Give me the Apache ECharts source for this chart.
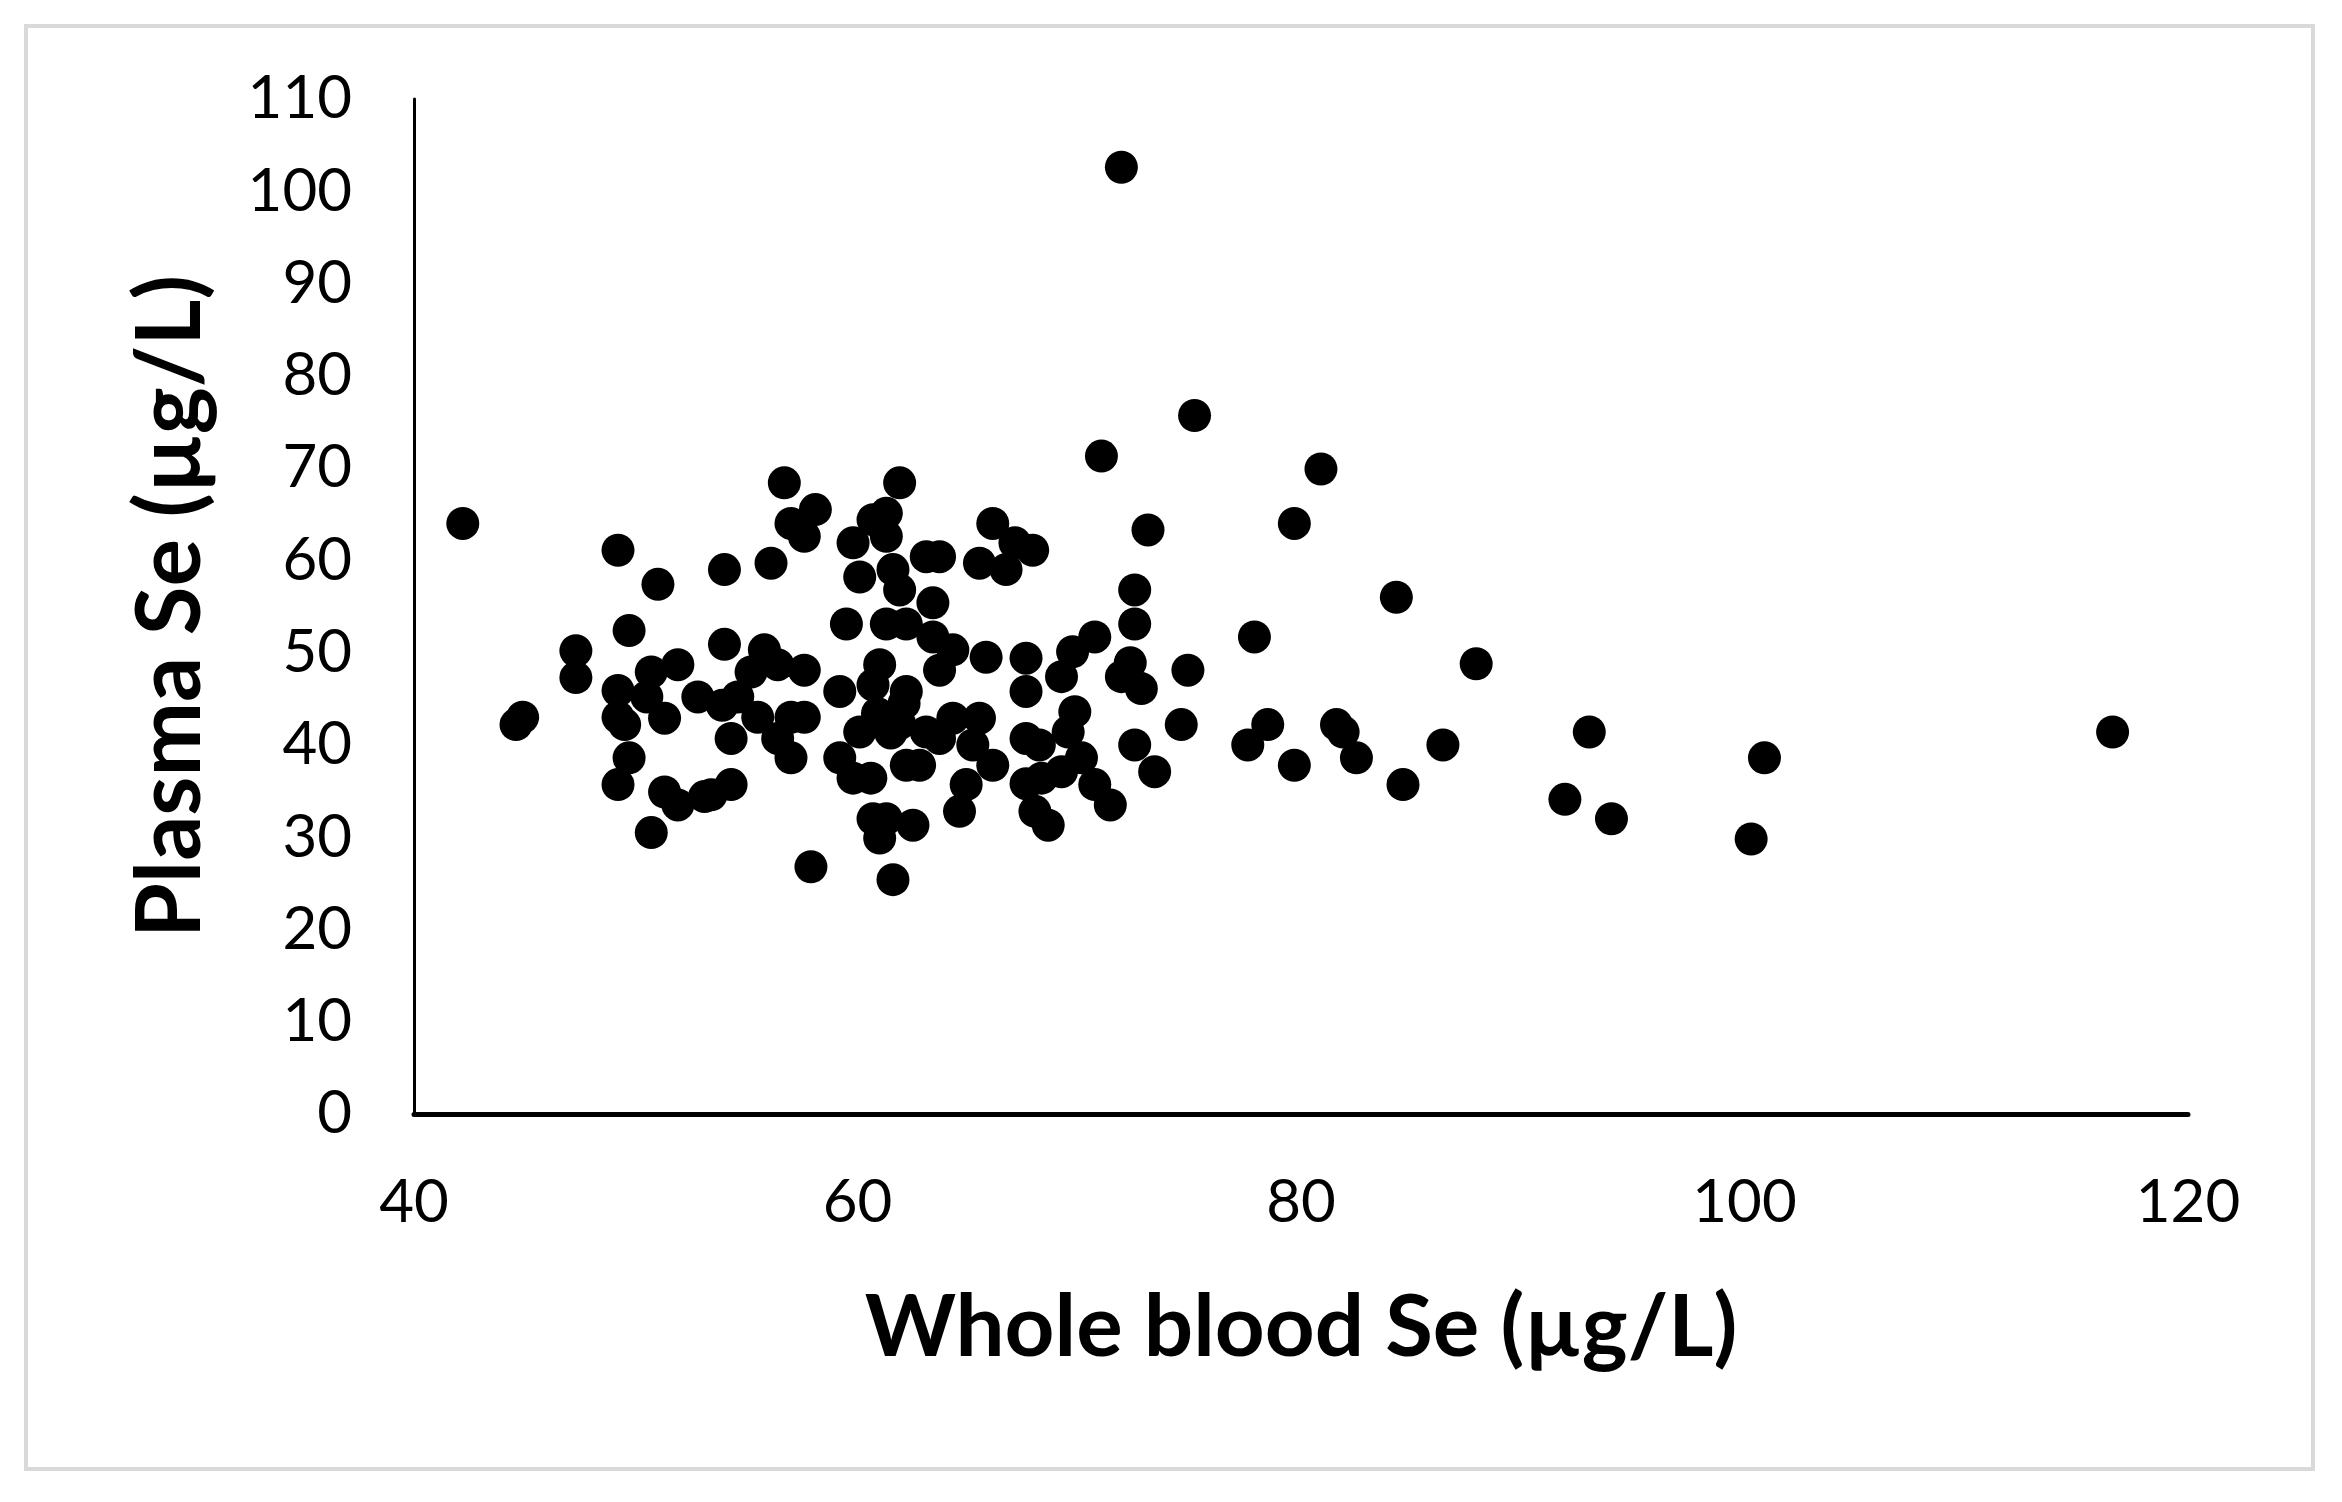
<!DOCTYPE html>
<html>
<head>
<meta charset="utf-8">
<script src="https://cdn.jsdelivr.net/npm/echarts@6/dist/echarts.min.js"></script>
<style>
html,body{margin:0;padding:0;background:#fff;}
#chart{width:2342px;height:1502px;}
</style>
</head>
<body>
<div id="chart"></div>
<script>
// Whole blood Se (µg/L)
const wholeBloodSe = [
  42.2,44.9,44.6,47.3,47.3,49.2,49.2,49.2,49.5,49.7,49.2,49.7,50.7,50.5,51.0,51.3,50.7,51.9,51.3,51.9,
  52.8,53.1,53.4,53.9,54.0,54.0,54.3,54.3,54.6,55.2,55.5,55.8,56.1,56.4,56.4,56.7,57.0,57.0,57.0,57.6,
  57.6,57.6,57.9,58.1,
  59.2,59.8,60.1,60.7,61.3,61.3,61.6,61.9,61.9,63.1,63.7,63.4,59.5,61.3,62.2,63.4,64.3,63.7,65.8,66.1,
  65.5,67.1,67.9,66.7,71.0,73.1,72.5,72.5,67.6,69.2,69.7,70.7,67.6,72.3,72.8,71.9,74.9,61.0,60.7,62.2,
  62.1,60.9,60.1,61.5,61.9,63.1,63.7,64.3,65.5,59.2,59.8,60.6,62.2,62.8,65.2,66.1,67.6,68.2,69.8,69.5,
  70.1,69.2,68.3,67.6,70.7,71.4,68.0,68.6,64.9,64.6,72.5,73.4,74.6,60.7,61.3,61.0,62.5,61.6,71.9,
  75.2,80.9,79.7,84.3,77.9,87.9,78.5,77.6,79.7,81.6,81.9,82.5,86.4,84.6,91.9,93.0,94.0,100.3,100.9,116.6
];
// Plasma Se (µg/L)
const plasmaSe = [
  64.0,43.0,42.2,50.2,47.3,61.1,45.9,43.0,42.2,38.6,35.7,52.4,47.9,45.2,57.4,42.9,30.5,48.7,34.9,33.5,
  45.2,34.4,34.6,44.3,59.0,50.9,35.7,40.7,45.2,47.9,43.0,50.3,59.7,48.7,40.7,68.4,64.0,43.0,38.6,62.6,
  48.1,43.0,26.8,65.5,
  45.8,61.9,58.2,64.4,65.1,62.6,59.0,56.8,68.4,60.4,60.4,55.4,53.1,53.1,53.1,51.7,50.3,48.1,49.5,64.0,
  59.7,61.9,61.1,59.0,71.3,63.3,56.8,53.1,49.4,47.4,50.1,51.7,45.8,48.9,46.1,47.4,48.1,48.7,46.5,45.8,
  44.5,43.4,41.4,41.3,42.3,41.4,40.7,42.9,42.9,38.6,36.4,36.4,37.8,37.8,40.0,37.8,40.7,40.0,43.6,41.4,
  38.6,37.1,36.4,35.8,35.7,33.5,32.8,31.3,35.7,32.8,40.0,37.1,42.2,32.0,32.0,29.9,31.3,25.4,102.6,
  75.7,69.9,64.0,56.0,51.7,48.8,42.2,40.0,37.8,42.2,41.4,38.6,40.0,35.7,34.1,41.4,32.0,29.8,38.6,41.4
];
// Axis ticks
const xTicks = { min: 40, max: 120, interval: 20 };
const yTicks = { min: 0, max: 110, interval: 10 };

const points = wholeBloodSe.map((x, i) => [x, plasmaSe[i]]);

const chart = echarts.init(document.getElementById('chart'), null, { renderer: 'canvas' });
chart.setOption({
  backgroundColor: '#ffffff',
  animation: false,
  graphic: [{
    type: 'rect',
    silent: true,
    shape: { x: 26, y: 26, width: 2287, height: 1443 },
    style: { fill: 'none', stroke: '#d9d9d9', lineWidth: 4 }
  }],
  grid: { left: 414, right: 154, top: 99, bottom: 388, containLabel: false },
  xAxis: {
    type: 'value',
    min: xTicks.min, max: xTicks.max, interval: xTicks.interval,
    name: 'Whole blood Se (µg/L)',
    nameLocation: 'middle',
    nameGap: 170,
    nameTextStyle: { fontFamily: 'Lato', fontWeight: 'bold', fontSize: 87, color: '#000' },
    axisLine: { show: true, onZero: false, lineStyle: { color: '#000', width: 5 } },
    axisTick: { show: false },
    splitLine: { show: false },
    axisLabel: { fontFamily: 'Lato', fontSize: 60, color: '#000', margin: 59 }
  },
  yAxis: {
    type: 'value',
    min: yTicks.min, max: yTicks.max, interval: yTicks.interval,
    name: 'Plasma Se (µg/L)',
    nameLocation: 'middle',
    nameGap: 198,
    nameTextStyle: { fontFamily: 'Lato', fontWeight: 'bold', fontSize: 89, color: '#000' },
    axisLine: { show: true, onZero: false, lineStyle: { color: '#000', width: 3 } },
    axisTick: { show: false },
    splitLine: { show: false },
    axisLabel: { fontFamily: 'Lato', fontSize: 60, color: '#000', margin: 62 }
  },
  series: [{
    type: 'scatter',
    data: points,
    symbol: 'circle',
    symbolSize: 33,
    itemStyle: { color: '#000', opacity: 1 }
  }]
});
</script>
</body>
</html>
